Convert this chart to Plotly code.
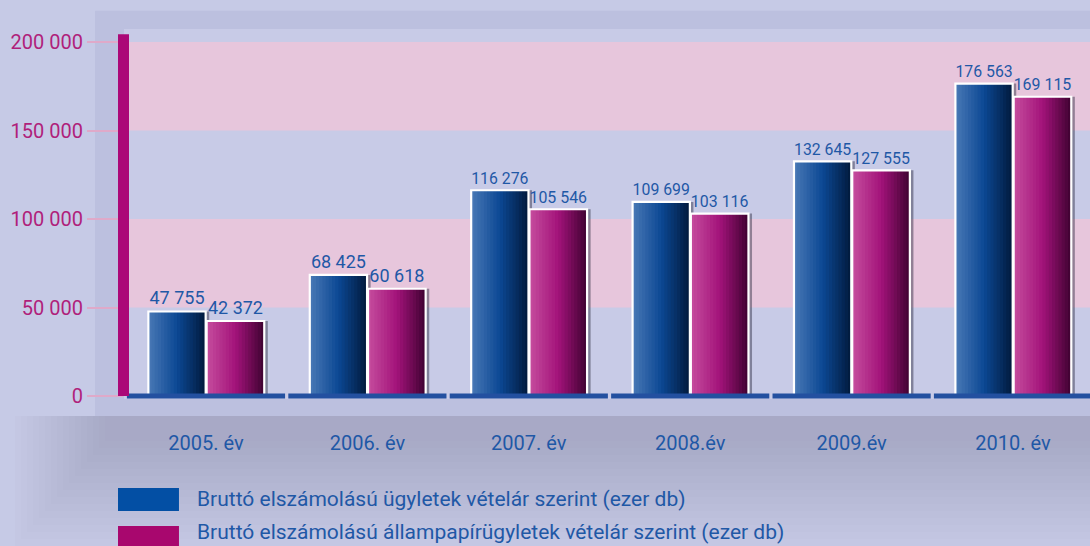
import plotly.graph_objects as go

categories = ["2005. év", "2006. év", "2007. év", "2008.év", "2009.év", "2010. év"]
series_names = [
    "Bruttó elszámolású ügyletek vételár szerint (ezer db)",
    "Bruttó elszámolású állampapírügyletek vételár szerint (ezer db)",
]
values_gross = [47755, 68425, 116276, 109699, 132645, 176563]
values_gov = [42372, 60618, 105546, 103116, 127555, 169115]
y_ticks = [0, 50000, 100000, 150000, 200000]

LEG_BLUE = "#034fa4"
LEG_MAG = "#a8076e"
TXT_BLUE = "#1f58a6"
Y_MAG = "#b01f7b"
FONT = "Roboto"

# shading stops (left edge -> middle -> right edge)
blue_stops = ["#4676b4", "#0c4894", "#021c40"]
mag_stops = ["#c44a9c", "#a3137a", "#440335"]
N_STEPS = 18


def hex2rgb(h):
    h = h.lstrip("#")
    return [int(h[i:i + 2], 16) for i in (0, 2, 4)]


def shade(stops, t):
    if t <= 0.5:
        a, b, f = hex2rgb(stops[0]), hex2rgb(stops[1]), t / 0.5
    else:
        a, b, f = hex2rgb(stops[1]), hex2rgb(stops[2]), (t - 0.5) / 0.5
    c = [round(a[i] + (b[i] - a[i]) * f) for i in range(3)]
    return "rgb(%d,%d,%d)" % tuple(c)


fig = go.Figure()


def add_series(vals, off, wid, stops, name):
    # shadow on the right
    fig.add_trace(go.Bar(x=categories, y=vals, offset=off + 0.022, width=wid,
                         marker=dict(color="rgba(40,40,60,0.45)", line_width=0),
                         hoverinfo="skip", showlegend=False))
    for k in range(N_STEPS):
        w = wid * (N_STEPS - k) / N_STEPS
        t = (N_STEPS - 1 - k) / (N_STEPS - 1)
        fig.add_trace(go.Bar(x=categories, y=vals, offset=off, width=w,
                             marker=dict(color=shade(stops, t), line_width=0),
                             hoverinfo="skip", showlegend=False))
    # white outline + value label
    fig.add_trace(go.Bar(x=categories, y=vals, offset=off, width=wid, name=name,
                         marker=dict(color="rgba(0,0,0,0)", line=dict(color="white", width=2.2)),
                         texttemplate="%{y:,}", textposition="outside",
                         textfont=dict(family=FONT, size=18, color=TXT_BLUE),
                         cliponaxis=False, showlegend=False))


add_series(values_gross, -0.357, 0.355, blue_stops, series_names[0])
add_series(values_gov, 0.004, 0.357, mag_stops, series_names[1])

shapes = []
# outer frame around plot
shapes.append(dict(type="rect", xref="paper", yref="paper", x0=-0.030, x1=1.0,
                   y0=-0.046, y1=1.049, fillcolor="#bcc0df", line_width=0, layer="below"))
# soft grey zone below chart frame
for i in range(16):
    x0px = 15 + i * 6
    y1px = 546 - i * 7
    shapes.append(dict(type="rect", xref="paper", yref="paper",
                       x0=(x0px - 124) / 966, x1=1.0,
                       y0=(399 - y1px) / 370, y1=-0.046,
                       fillcolor="#8a8fa8", opacity=0.036, line_width=0, layer="below"))
# plot background and pink bands
shapes.append(dict(type="rect", xref="paper", yref="y", x0=0, x1=1, y0=-1700, y1=207400,
                   fillcolor="#c8cbe7", line_width=0, layer="below"))
for lo, hi in [(50000, 100000), (150000, 200000)]:
    shapes.append(dict(type="rect", xref="paper", yref="y", x0=0, x1=1, y0=lo, y1=hi,
                       fillcolor="#e7c6dc", line_width=0, layer="below"))
# baseline segments with gaps at category boundaries
n = len(categories)
for i in range(n):
    shapes.append(dict(type="line", xref="x", yref="y", x0=i - 0.49,
                       x1=i + 0.49 if i < n - 1 else i + 0.6,
                       y0=0, y1=0, line=dict(color="#2350a0", width=5), layer="above"))
# magenta vertical axis bar
shapes.append(dict(type="rect", xref="paper", yref="y", xanchor=0, xsizemode="pixel",
                   x0=-6, x1=5, y0=0, y1=204500, fillcolor="#ab0877", line_width=0, layer="above"))
# legend boxes
shapes.append(dict(type="rect", xref="paper", yref="paper", x0=-0.0062, x1=0.0569,
                   y0=-0.3027, y1=-0.2405, fillcolor=LEG_BLUE, line_width=0))
shapes.append(dict(type="rect", xref="paper", yref="paper", x0=-0.0062, x1=0.0569,
                   y0=-0.4100, y1=-0.3432, fillcolor=LEG_MAG, line_width=0))

annotations = [
    dict(text=series_names[0], xref="paper", yref="paper", x=0.0735, y=-0.2716,
         xanchor="left", yanchor="middle", showarrow=False,
         font=dict(family=FONT, size=21, color=TXT_BLUE)),
    dict(text=series_names[1], xref="paper", yref="paper", x=0.0735, y=-0.3600,
         xanchor="left", yanchor="middle", showarrow=False,
         font=dict(family=FONT, size=21, color=TXT_BLUE)),
]

fig.update_layout(
    width=1090, height=546,
    margin=dict(l=124, r=0, t=29, b=147),
    paper_bgcolor="#c6cae6", plot_bgcolor="#c8cbe7",
    barmode="overlay",
    separators=", ",
    shapes=shapes, annotations=annotations,
    font=dict(family=FONT),
    xaxis=dict(range=[-0.508, 5.477], showgrid=False, zeroline=False, showline=False,
               ticks="", tickfont=dict(family=FONT, size=20, color=TXT_BLUE),
               ticklabelstandoff=30),
    yaxis=dict(range=[-1700, 207400], tickvals=y_ticks, tickformat=",",
               showgrid=False, zeroline=False, showline=False,
               ticks="outside", ticklen=36, tickwidth=2, tickcolor="#dfa9c9",
               tickfont=dict(family=FONT, size=20, color=Y_MAG)),
)

fig.write_html("out.html", config={"displayModeBar": False},
               post_script="document.body.style.margin='0';document.body.style.padding='0';"
                           "document.body.style.overflow='hidden';")
